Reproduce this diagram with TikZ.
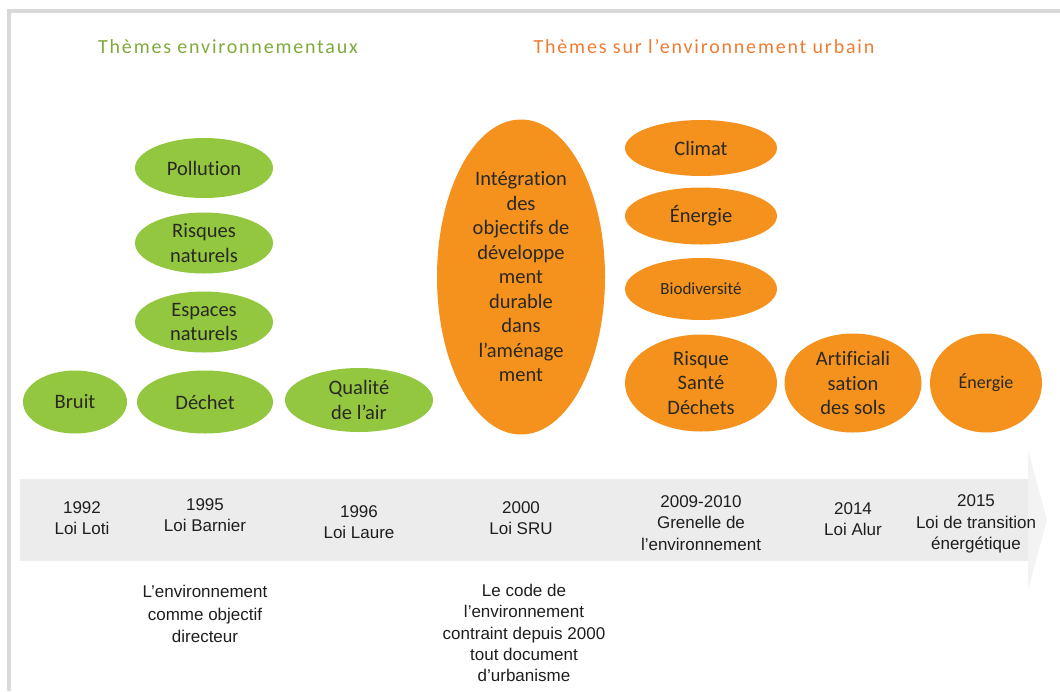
\documentclass[tikz,border=0pt]{standalone}
\usepackage{fontspec}
\setmainfont{Liberation Sans}
\newfontfamily\calfont[Ligatures=NoCommon]{Carlito}
\newfontfamily\titlefont[LetterSpace=9,Ligatures=NoCommon]{Carlito}
\usetikzlibrary{shapes.geometric}
\definecolor{framegray}{HTML}{D9D9D9}
\definecolor{bandgray}{HTML}{ECECEC}
\definecolor{headgray}{HTML}{F3F3F3}
\definecolor{leaf}{HTML}{92C73F}
\definecolor{tang}{HTML}{F5921E}
\definecolor{titlegreen}{HTML}{7FAA3A}
\definecolor{titleorange}{HTML}{F07C32}
\definecolor{inktext}{HTML}{2A2820}
\definecolor{lawtext}{HTML}{1E1E1E}
\begin{document}
\begin{tikzpicture}[x=1pt,y=-1pt,
  theme/.style={ellipse, inner sep=-10pt, outer sep=0pt, text=inktext,
    font=\calfont\fontsize{20.5}{24.5}\selectfont, align=center},
  greentheme/.style={theme, fill=leaf},
  orangetheme/.style={theme, fill=tang},
  law/.style={align=center, text=lawtext, inner sep=0pt,
    font=\fontsize{17}{21.5}\selectfont},
  heading/.style={inner sep=0pt, font=\titlefont\fontsize{20}{24}\selectfont}
]
\useasboundingbox (0,0) rectangle (1060,691);
% frame
\fill[framegray] (7,9) rectangle (1060,13);
\fill[framegray] (7,9) rectangle (11,691);
% timeline band
\fill[bandgray] (20,479) rectangle (1028,561);
\fill[headgray] (1028,450) -- (1047,520) -- (1028,590) -- cycle;

% headings
\node[heading, text=titlegreen] (hgreen) at (228,47) {Thèmes environnementaux};
\node[heading, text=titleorange] (horange) at (704,47) {Thèmes sur l’environnement urbain};

% green themes
\node[greentheme, minimum width=138, minimum height=60] (pollution) at (204,168) {Pollution};
\node[greentheme, minimum width=138, minimum height=61] (risques) at (204,243) {Risques\\naturels};
\node[greentheme, minimum width=138, minimum height=61] (espaces) at (204,322) {Espaces\\naturels};
\node[greentheme, minimum width=104, minimum height=63] (bruit) at (75,402) {Bruit};
\node[greentheme, minimum width=136, minimum height=63] (dechet) at (205,402) {Déchet};
\node[greentheme, minimum width=148, minimum height=64] (qualite) at (359,400) {Qualité\\de l’air};

% orange themes
\node[orangetheme, minimum width=168, minimum height=315] (integration) at (521,277)
  {Intégration\\des\\objectifs de\\développe\\ment\\durable\\dans\\l’aménage\\ment};
\node[orangetheme, minimum width=152, minimum height=56] (climat) at (701,148) {Climat};
\node[orangetheme, minimum width=152, minimum height=57] (energie) at (701,216) {Énergie};
\node[orangetheme, font=\calfont\fontsize{17}{20}\selectfont, minimum width=152, minimum height=62] (biodiv) at (701,289) {Biodiversité};
\node[orangetheme, minimum width=152, minimum height=97] (risque) at (701,383) {Risque\\Santé\\Déchets};
\node[orangetheme, minimum width=137, minimum height=99] (artif) at (853,383) {Artificiali\\sation\\des sols};
\node[orangetheme, font=\calfont\fontsize{18}{21}\selectfont, minimum width=112, minimum height=99] (energie2) at (986,383) {Énergie};

% laws on the timeline
\node[law] (l1992) at (82,518) {1992\\Loi Loti};
\node[law] (l1995) at (205,515) {1995\\Loi Barnier};
\node[law] (l1996) at (359,522) {1996\\Loi Laure};
\node[law] (l2000) at (521,518) {2000\\Loi SRU};
\node[law] (l2009) at (701,523) {2009-2010\\Grenelle de\\l’environnement};
\node[law] (l2014) at (853,519) {2014\\Loi Alur};
\node[law] (l2015) at (976,524) {2015\\Loi de transition\\énergétique};

% notes
\node[law, font=\fontsize{17}{22.5}\selectfont] (n1995) at (205,614)
  {L’environnement\\comme objectif\\directeur};
\node[law, font=\fontsize{17}{21.3}\selectfont] (n2000) at (524,633)
  {Le code de\\l’environnement\\contraint depuis 2000\\tout document\\d’urbanisme};
\end{tikzpicture}
\end{document}
